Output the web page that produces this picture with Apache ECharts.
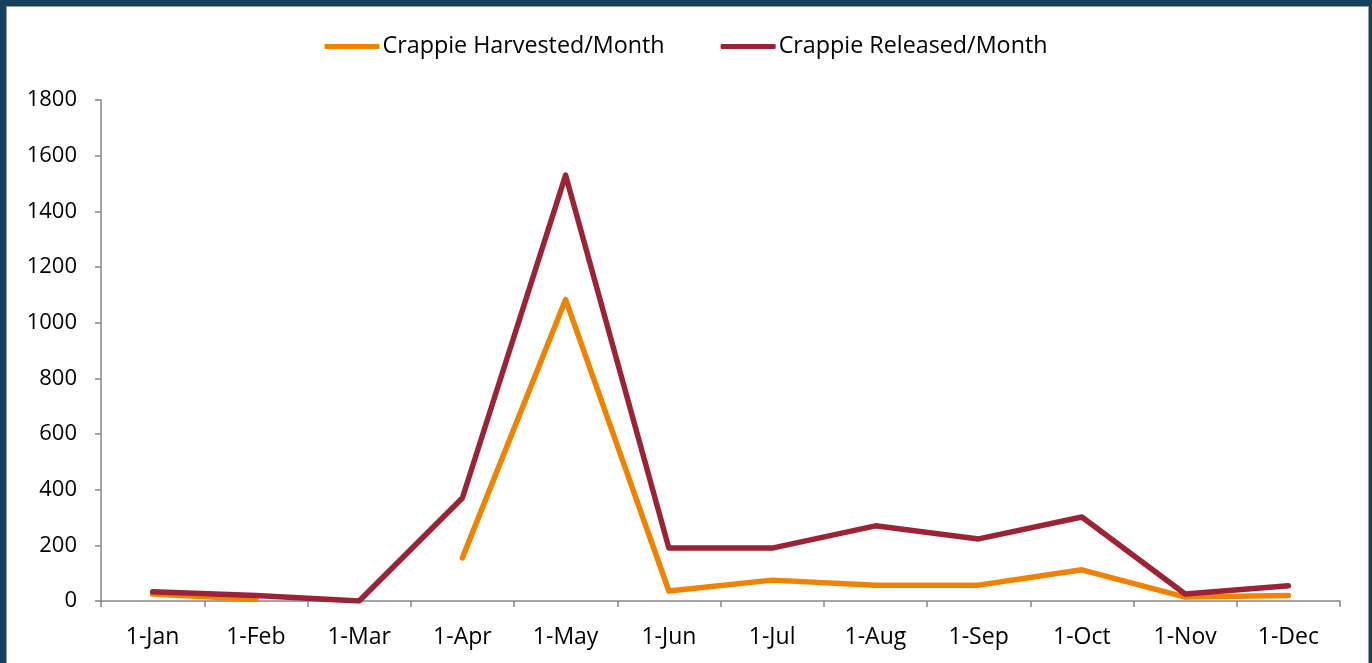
<!DOCTYPE html>
<html>
<head>
<meta charset="utf-8">
<script src="https://cdn.jsdelivr.net/npm/echarts@6/dist/echarts.min.js"></script>
<style>
  html, body { margin: 0; padding: 0; background: #17405c; }
  #frame {
    position: absolute; left: 6px; top: 6px; width: 1361px; height: 670px;
    background: #ffffff; border: 1px solid #9a9a9a;
  }
  #chart { position: absolute; left: 0; top: 0; width: 1372px; height: 663px; }
</style>
</head>
<body>
<div id="frame"></div>
<div id="chart"></div>
<script>
// month labels
const months = ['1-Jan', '1-Feb', '1-Mar', '1-Apr', '1-May', '1-Jun', '1-Jul', '1-Aug', '1-Sep', '1-Oct', '1-Nov', '1-Dec']
// values (Mar harvested missing)
const harvested = [25, 6, null, 155, 1083, 36, 75, 57, 57, 112, 14, 20]
const released = [33, 20, 0, 370, 1530, 190, 190, 270, 223, 302, 25, 55]
const yTicks = [0, 1800, 200]

const chart = echarts.init(document.getElementById('chart'))
const font = 'Open Sans, Liberation Sans, sans-serif'

chart.setOption({
  animation: false,
  textStyle: { fontFamily: font },
  legend: {
    top: 30,
    left: 'center',
    itemWidth: 55,
    itemHeight: 5,
    itemGap: 56,
    icon: 'roundRect',
    textStyle: { fontSize: 23.3, color: '#000', fontFamily: font, padding: [0, 0, 0, -2] },
    data: ['Crappie Harvested/Month', 'Crappie Released/Month'],
  },
  grid: { left: 101, right: 32, top: 100, bottom: 62 },
  xAxis: {
    type: 'category',
    data: months,
    boundaryGap: true,
    axisLine: { lineStyle: { color: '#868686', width: 1.5 } },
    axisTick: { show: true, length: 6, alignWithLabel: false, lineStyle: { color: '#868686', width: 1.5 } },
    axisLabel: { color: '#000', fontSize: 23, margin: 25, fontFamily: font },
  },
  yAxis: {
    type: 'value',
    min: yTicks[0],
    max: yTicks[1],
    interval: yTicks[2],
    splitLine: { show: false },
    axisLine: { show: true, lineStyle: { color: '#868686', width: 1.5 } },
    axisTick: { show: true, length: 6, lineStyle: { color: '#868686', width: 1.5 } },
    axisLabel: { color: '#000', fontSize: 22, margin: 24, fontFamily: font, formatter: v => String(v) },
  },
  series: [
    {
      name: 'Crappie Harvested/Month',
      type: 'line',
      data: harvested,
      symbol: 'none',
      connectNulls: false,
      lineStyle: { color: '#f08200', width: 5.5, cap: 'round', join: 'round' },
      itemStyle: { color: '#f08200' },
    },
    {
      name: 'Crappie Released/Month',
      type: 'line',
      data: released,
      symbol: 'none',
      lineStyle: { color: '#9b2335', width: 5.5, cap: 'round', join: 'round' },
      itemStyle: { color: '#9b2335' },
    },
  ],
})
</script>
</body>
</html>
